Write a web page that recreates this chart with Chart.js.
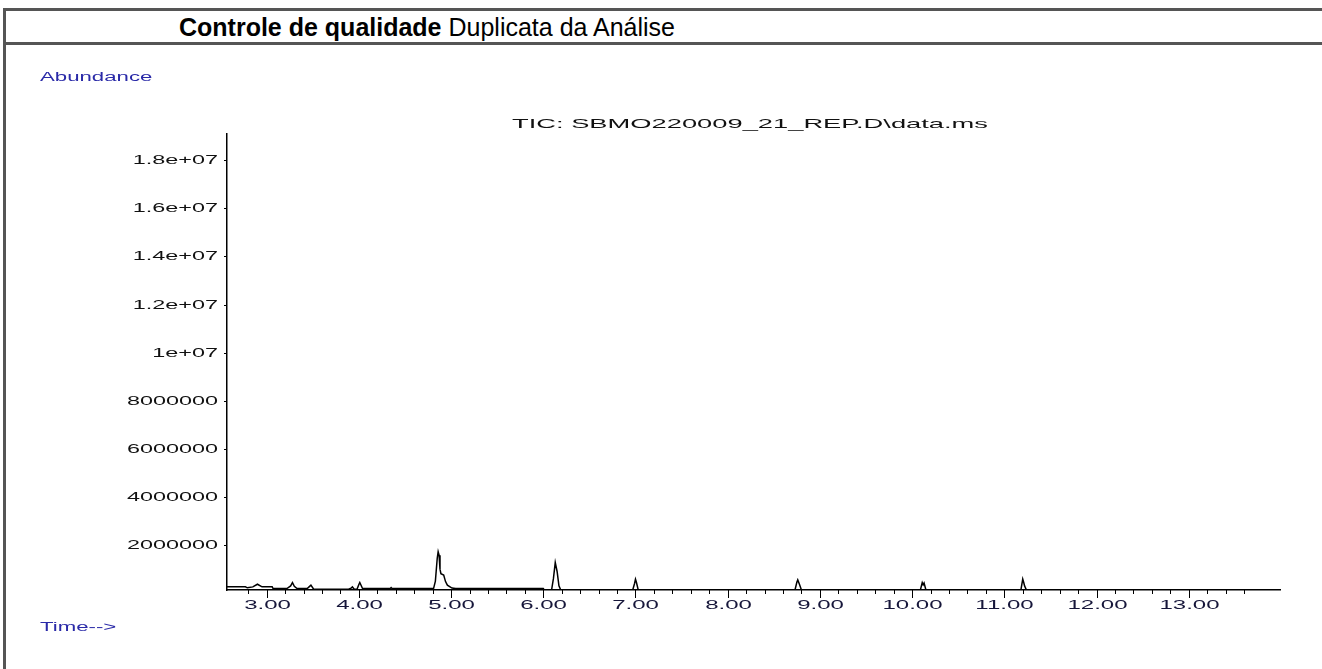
<!DOCTYPE html>
<html>
<head>
<meta charset="utf-8">
<script src="https://cdn.jsdelivr.net/npm/chart.js@4.4.1/dist/chart.umd.min.js"></script>
<style>
  body { margin: 0; background: #fff; font-family: "Liberation Sans", Arial, sans-serif; }
  #page { position: relative; width: 1322px; height: 669px; overflow: hidden; }
  #leftbar { position: absolute; left: 3px; top: 8px; bottom: 0; border-left: 3px solid #555; }
  #header { position: absolute; left: 3px; top: 8px; width: 1340px; height: 31px;
            border-top: 3px solid #555; border-bottom: 3px solid #555; }
  #header .txt { position: absolute; left: 176px; top: 2px; font-size: 25px; color: #000; white-space: nowrap; }
  canvas { position: absolute; left: 0; top: 0; }
</style>
</head>
<body>
<div id="page">
  <div id="leftbar"></div>
  <div id="header"><div class="txt"><b>Controle de qualidade</b> Duplicata da Análise</div></div>
  <canvas id="grafico" width="1322" height="669"></canvas>
</div>
<script>
// dados do cromatograma (tempo em min, abundancia)
const tempos = [2.57, 2.77, 2.79, 2.85, 2.90, 2.95, 3.06, 3.07, 3.22, 3.26, 3.28, 3.30, 3.33,
  3.44, 3.46, 3.48, 3.51, 3.89, 3.92, 3.93, 3.95, 3.98, 4.00, 4.01, 4.04, 4.34, 4.35, 4.36,
  4.81, 4.83, 4.85, 4.86, 4.87, 4.88, 4.89, 4.92, 4.94, 4.96, 5.01, 5.05, 6.00, 6.01,
  6.09, 6.11, 6.13, 6.15, 6.17, 6.19, 6.97, 6.99, 7.00, 7.01, 7.03,
  8.73, 8.75, 8.76, 8.78, 8.80, 10.09, 10.11, 10.12, 10.13, 10.15,
  11.18, 11.20, 11.21, 11.22, 11.24, 13.99]
const abundancia = [260000, 260000, 220000, 260000, 370000, 260000, 260000, 190000, 190000, 300000, 440000, 280000, 190000,
  190000, 260000, 330000, 160000, 160000, 220000, 260000, 160000, 160000, 360000, 440000, 190000, 190000, 230000, 190000,
  190000, 500000, 1450000, 1720000, 1580000, 1000000, 810000, 750000, 480000, 330000, 210000, 190000, 190000, 130000,
  130000, 600000, 1270000, 900000, 300000, 130000, 130000, 400000, 580000, 450000, 130000,
  130000, 450000, 550000, 350000, 130000, 130000, 440000, 350000, 420000, 130000,
  130000, 580000, 450000, 300000, 130000, 130000]

const tituloGrafico = 'TIC: SBMO220009_21_REP.D\\data.ms'
const labelY = 'Abundance'
const labelX = 'Time-->'
const yTickLabels = ['2000000', '4000000', '6000000', '8000000', '1e+07', '1.2e+07', '1.4e+07', '1.6e+07', '1.8e+07']

const X_MIN = 2.57, X_MAX = 13.99
const Y_MIN = 130000, Y_MAX = 19090000

// texto esticado na horizontal, como no relatorio original
function textoLargo(ctx, txt, x, y, esc, align) {
  ctx.save()
  const w = ctx.measureText(txt).width * esc
  let x0 = x
  if (align == 'center') x0 = x - w / 2
  else if (align == 'right') x0 = x - w
  ctx.translate(x0, y)
  ctx.scale(esc, 1)
  ctx.textAlign = 'left'
  ctx.fillText(txt, 0, 0)
  ctx.restore()
}

const eixosPlugin = {
  id: 'eixos',
  afterDraw(chart) {
    const ctx = chart.ctx
    const xs = chart.scales.x, ys = chart.scales.y
    const area = chart.chartArea
    ctx.save()
    ctx.strokeStyle = '#000'
    ctx.lineWidth = 1
    ctx.textBaseline = 'middle'

    // ticks do eixo x (a cada 0.2 min, maior a cada 1 min)
    ctx.font = '12px "Liberation Sans", Arial'
    ctx.fillStyle = '#16163a'
    xs.ticks.forEach(t => {
      const v = Math.round(t.value * 10) / 10
      if (Math.abs(v - t.value) > 0.001 || v < X_MIN) return
      const px = Math.round(xs.getPixelForValue(v)) + 0.5
      const major = Math.abs(v - Math.round(v)) < 0.001
      ctx.beginPath()
      ctx.moveTo(px, area.bottom)
      ctx.lineTo(px, area.bottom + (major ? 8 : 4))
      ctx.stroke()
      if (major) textoLargo(ctx, v.toFixed(2), px, area.bottom + 16, 2.0, 'center')
    })

    // ticks do eixo y
    ctx.fillStyle = '#111'
    yTickLabels.forEach((lab, i) => {
      const py = Math.round(ys.getPixelForValue((i + 1) * 2000000)) + 0.5
      ctx.beginPath()
      ctx.moveTo(area.left - 3, py)
      ctx.lineTo(area.left, py)
      ctx.stroke()
      textoLargo(ctx, lab, area.left - 9, py, 1.95, 'right')
    })

    // titulo e rotulos
    ctx.fillStyle = '#111'
    ctx.font = '13px "Liberation Sans", Arial'
    textoLargo(ctx, tituloGrafico, 750, 124, 2.1, 'center')

    ctx.fillStyle = '#2a2aa8'
    ctx.font = '12px "Liberation Sans", Arial'
    textoLargo(ctx, labelY, 40, 78, 1.85, 'left')
    textoLargo(ctx, labelX, 40, 628, 1.85, 'left')
    ctx.restore()
  }
}

new Chart(document.getElementById('grafico'), {
  type: 'line',
  data: {
    datasets: [{
      data: tempos.map((t, i) => ({ x: t, y: abundancia[i] })),
      borderColor: '#000',
      borderWidth: 1.5,
      pointRadius: 0,
      tension: 0,
      fill: false
    }]
  },
  options: {
    responsive: false,
    animation: false,
    layout: { padding: { left: 219, top: 134, right: 42, bottom: 71 } },
    plugins: { legend: { display: false }, tooltip: { enabled: false } },
    scales: {
      x: {
        type: 'linear', min: X_MIN, max: X_MAX,
        ticks: { display: false, stepSize: 0.2 },
        grid: { display: false },
        border: { display: true, color: '#000', width: 1.5 }
      },
      y: {
        type: 'linear', min: Y_MIN, max: Y_MAX,
        ticks: { display: false },
        grid: { display: false },
        border: { display: true, color: '#000', width: 1.5 }
      }
    }
  },
  plugins: [eixosPlugin]
})
</script>
</body>
</html>
